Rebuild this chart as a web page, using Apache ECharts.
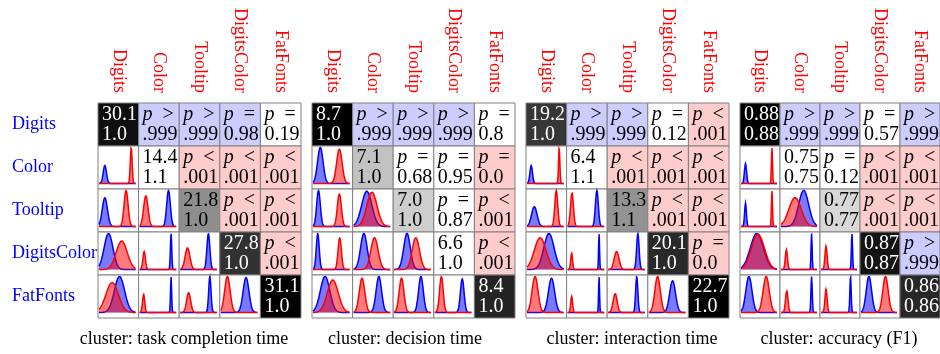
<!DOCTYPE html>
<html><head><meta charset="utf-8">
<script src="https://cdn.jsdelivr.net/npm/echarts@6/dist/echarts.min.js"></script>
<style>html,body{margin:0;padding:0;background:#fff}#c{width:940px;height:354px}</style>
</head><body><div id="c"></div>
<script>
const methods = ['Digits', 'Color', 'Tooltip', 'DigitsColor', 'FatFonts'];
const clusterTitles = ['cluster: task completion time', 'cluster: decision time', 'cluster: interaction time', 'cluster: accuracy (F1)'];
// diagonal: first and second number per method
const diagMain = [
  [30.1, 14.4, 21.8, 27.8, 31.1],
  [8.7, 7.1, 7.0, 6.6, 8.4],
  [19.2, 6.4, 13.3, 20.1, 22.7],
  [0.88, 0.75, 0.77, 0.87, 0.86]
];
const diagSecond = [
  [1.0, 1.1, 1.0, 1.0, 1.0],
  [1.0, 1.0, 1.0, 1.0, 1.0],
  [1.0, 1.1, 1.1, 1.0, 1.0],
  [0.88, 0.75, 0.77, 0.87, 0.86]
];
const diagDecimals = [1, 1, 1, 2];
// upper triangle cells order: (0,1),(0,2),(0,3),(0,4),(1,2),(1,3),(1,4),(2,3),(2,4),(3,4)
const pOps = [
  ['>', '>', '=', '=', '<', '<', '<', '<', '<', '<'],
  ['>', '>', '>', '=', '=', '=', '=', '=', '<', '<'],
  ['>', '>', '=', '<', '<', '<', '<', '<', '<', '='],
  ['>', '>', '=', '>', '=', '<', '<', '<', '<', '>']
];
const pVals = [
  ['.999', '.999', '0.98', '0.19', '.001', '.001', '.001', '.001', '.001', '.001'],
  ['.999', '.999', '.999', '0.8', '0.68', '0.95', '0.0', '0.87', '.001', '.001'],
  ['.999', '.999', '0.12', '.001', '.001', '.001', '.001', '.001', '.001', '0.0'],
  ['.999', '.999', '0.57', '.999', '0.12', '.001', '.001', '.001', '.001', '.999']
];
// lower triangle cells order: (1,0),(2,0),(2,1),(3,0),(3,1),(3,2),(4,0),(4,1),(4,2),(4,3)
// each curve: [centre (fraction of cell width), spread (fraction), peak height (fraction)]
// blue = row method, red = column method
const blueCurves = [
  [[.16,.045,.5],[.16,.07,.8],[.79,.05,1],[.26,.12,1],[.86,.018,1],[.77,.04,1],[.56,.14,1],[.86,.015,1],[.81,.032,1],[.69,.08,.97]],
  [[.2,.075,1],[.15,.05,1],[.36,.14,.98],[.13,.04,1],[.28,.09,1],[.35,.09,1],[.33,.13,1],[.69,.075,1],[.73,.065,1],[.75,.05,.93]],
  [[.115,.035,.5],[.2,.075,.55],[.8,.04,1],[.6,.14,1],[.86,.013,1],[.81,.034,1],[.67,.085,.95],[.86,.013,1],[.78,.03,1],[.65,.08,.88]],
  [[.125,.03,.55],[.125,.025,.65],[.63,.14,1],[.44,.18,1],[.85,.015,1],[.86,.016,1],[.22,.085,1],[.85,.018,1],[.82,.018,1],[.22,.075,1]]
];
const redCurves = [
  [[.88,.025,1],[.74,.055,1],[.17,.06,.85],[.62,.15,.79],[.125,.034,.5],[.2,.065,.6],[.36,.17,.83],[.11,.03,.5],[.23,.055,.55],[.18,.075,1]],
  [[.72,.075,.95],[.72,.055,.9],[.5,.14,.95],[.73,.045,.88],[.57,.1,.88],[.59,.1,.88],[.54,.15,.9],[.23,.075,.95],[.2,.065,.95],[.18,.05,1]],
  [[.88,.018,1],[.8,.04,1],[.12,.04,.93],[.36,.16,.88],[.11,.025,.45],[.23,.065,.5],[.22,.08,1],[.11,.025,.45],[.19,.055,.52],[.24,.075,1]],
  [[.86,.015,1],[.86,.015,1],[.39,.17,.8],[.47,.18,.98],[.15,.03,.55],[.14,.03,.65],[.7,.085,1],[.16,.035,.6],[.14,.03,.65],[.68,.075,1]]
];

const FONT = '"Liberation Serif", "Times New Roman", serif';
const panelLefts = [98, 312, 526, 740];
const panelWidth = 203;
const gridTop = 103, gridHeight = 215;
const captionCenters = [184, 405, 632, 839];

function upperIndex(i, j) { let k = 0; for (let a = 0; a < 5; a++) for (let b = a + 1; b < 5; b++) { if (a === i && b === j) return k; k++; } return -1; }
function lowerIndex(i, j) { let k = 0; for (let a = 1; a < 5; a++) for (let b = 0; b < a; b++) { if (a === i && b === j) return k; k++; } return -1; }

function curvePts(c, x0, x1, yb, yt) {
  const pts = [];
  const N = 80;
  for (let n = 0; n <= N; n++) {
    const t = n / N;
    const z = (t - c[0]) / c[1];
    pts.push([x0 + t * (x1 - x0), yb - c[2] * (yb - yt) * Math.exp(-0.5 * z * z)]);
  }
  return pts;
}

function makeRender(p) {
  const vals = diagMain[p];
  const vmin = Math.min(...vals), vmax = Math.max(...vals);
  return function (params, api) {
    const j = api.value(0), i = api.value(1);
    const c = api.coord([j, i]);
    const s = api.size([1, 1]);
    const x0 = c[0] - s[0] / 2, y0 = c[1] - s[1] / 2, w = s[0], h = s[1];
    const ch = [];
    const border = { type: 'rect', shape: { x: x0, y: y0, width: w, height: h }, style: { fill: null, stroke: '#808080', lineWidth: 1 } };
    if (i === j) {
      const t = (vals[i] - vmin) / (vmax - vmin);
      const g = Math.round(255 * (1 - t));
      ch.push({ type: 'rect', shape: { x: x0, y: y0, width: w, height: h }, style: { fill: `rgb(${g},${g},${g})` } });
      ch.push(border);
      ch.push({ type: 'text', style: { text: vals[i].toFixed(diagDecimals[p]) + '\n' + diagSecond[p][i].toFixed(diagDecimals[p]), x: x0 + 4, y: y0 + h / 2 + 0.5, align: 'left', verticalAlign: 'middle', fontFamily: FONT, fontSize: 20, lineHeight: 20, fill: t > 0.5 ? '#fff' : '#000' } });
    } else if (j > i) {
      const k = upperIndex(i, j);
      const op = pOps[p][k], v = pVals[p][k];
      const num = parseFloat(v);
      let fill = '#ffffff';
      if (op === '>' || (op === '=' && num >= 0.975)) fill = '#ccccff';
      else if (op === '<' || (op === '=' && num < 0.05)) fill = '#ffcccc';
      ch.push({ type: 'rect', shape: { x: x0, y: y0, width: w, height: h }, style: { fill } });
      ch.push(border);
      ch.push({ type: 'text', style: { text: '{i|p}\u2002' + op + '\n' + v, x: x0 + 4, y: y0 + h / 2 + 0.5, align: 'left', verticalAlign: 'middle', fontFamily: FONT, fontSize: 20, lineHeight: 20, fill: '#000', rich: { i: { fontStyle: 'italic', fontFamily: FONT, fontSize: 20, lineHeight: 20, fill: '#000' } } } });
    } else {
      const k = lowerIndex(i, j);
      ch.push({ type: 'rect', shape: { x: x0, y: y0, width: w, height: h }, style: { fill: '#fff' } });
      const px0 = x0 + 1, px1 = x0 + w - 3, yb = y0 + h - 5.5, yt = y0 + 1.5;
      const bp = curvePts(blueCurves[p][k], px0, px1, yb, yt);
      const rp = curvePts(redCurves[p][k], px0, px1, yb, yt);
      const closeB = bp.concat([[px1, yb], [px0, yb]]);
      const closeR = rp.concat([[px1, yb], [px0, yb]]);
      ch.push({ type: 'polygon', shape: { points: closeB }, style: { fill: 'rgba(0,0,255,0.52)' } });
      ch.push({ type: 'polyline', shape: { points: bp }, style: { stroke: '#0000ff', lineWidth: 1.5, fill: null } });
      ch.push({ type: 'polygon', shape: { points: closeR }, style: { fill: 'rgba(255,0,0,0.52)' } });
      ch.push({ type: 'polyline', shape: { points: rp }, style: { stroke: '#ff0000', lineWidth: 1.5, fill: null } });
      ch.push(border);
    }
    return { type: 'group', children: ch };
  };
}

const cells = [];
for (let i = 0; i < 5; i++) for (let j = 0; j < 5; j++) cells.push([j, i]);

const grids = [], xAxes = [], yAxes = [], series = [], graphics = [];
for (let p = 0; p < 4; p++) {
  grids.push({ left: panelLefts[p], top: gridTop, width: panelWidth, height: gridHeight });
  xAxes.push({ type: 'category', gridIndex: p, data: methods, position: 'top', axisLine: { show: false }, axisTick: { show: false }, splitLine: { show: false },
    axisLabel: { rotate: 90, margin: 10, color: '#ff0000', fontFamily: FONT, fontSize: 18, interval: 0 } });
  yAxes.push({ type: 'category', gridIndex: p, data: methods, inverse: true, axisLine: { show: false }, axisTick: { show: false }, splitLine: { show: false },
    axisLabel: { show: p === 0, align: 'left', margin: 86, color: '#0000ff', fontFamily: FONT, fontSize: 18, interval: 0 } });
  series.push({ type: 'custom', xAxisIndex: p, yAxisIndex: p, data: cells, renderItem: makeRender(p), silent: true, animation: false, clip: false });
  graphics.push({ type: 'text', x: captionCenters[p], y: 339, style: { text: clusterTitles[p], align: 'center', verticalAlign: 'middle', fontFamily: FONT, fontSize: 18, fill: '#000' } });
}

const chart = echarts.init(document.getElementById('c'), null, { renderer: 'canvas' });
chart.setOption({ animation: false, grid: grids, xAxis: xAxes, yAxis: yAxes, series, graphic: graphics });
</script></body></html>
